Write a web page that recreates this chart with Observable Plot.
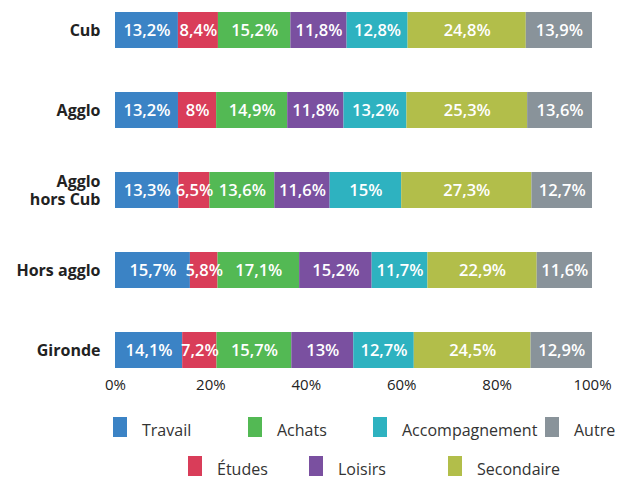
<!DOCTYPE html>
<html><head><meta charset="utf-8">
<script src="https://cdn.jsdelivr.net/npm/d3@7"></script>
<script src="https://cdn.jsdelivr.net/npm/@observablehq/plot@0.6"></script>
<style>
body{margin:0;background:#fff;font-family:"Open Sans",sans-serif;}
#wrap{position:relative;width:617px;height:479px;}
.lg{position:absolute;font-size:16px;color:#333;line-height:18px;white-space:nowrap;}
.sw{position:absolute;width:14px;height:20px;}
</style></head><body><div id="wrap"></div>
<script>
const regions = ["Cub", "Agglo", "Agglo hors Cub", "Hors agglo", "Gironde"];
const categories = ["Travail", "Études", "Achats", "Loisirs", "Accompagnement", "Secondaire", "Autre"];
const colors = ["#3b83c5", "#d93d59", "#53b954", "#7a50a0", "#2eb2c0", "#b2be4a", "#89939a"];
const values = {
  "Cub":            [13.2, 8.4, 15.2, 11.8, 12.8, 24.8, 13.9],
  "Agglo":          [13.2, 8.0, 14.9, 11.8, 13.2, 25.3, 13.6],
  "Agglo hors Cub": [13.3, 6.5, 13.6, 11.6, 15.0, 27.3, 12.7],
  "Hors agglo":     [15.7, 5.8, 17.1, 15.2, 11.7, 22.9, 11.6],
  "Gironde":        [14.1, 7.2, 15.7, 13.0, 12.7, 24.5, 12.9]
};
const data = regions.flatMap(r => categories.map((c, i) => ({region: r, category: c, value: values[r][i]})));
const fmt = v => String(v).replace(".", ",") + "%";
const yLabel = r => r === "Agglo hors Cub" ? "Agglo\nhors Cub" : r;

const chart = Plot.plot({
  width: 617, height: 400,
  marginLeft: 115, marginRight: 25, marginTop: 4, marginBottom: 24,
  style: {fontFamily: "'Open Sans', sans-serif", fontSize: "15px", color: "#222", background: "#fff"},
  x: {domain: [0, 1], ticks: [0, 0.2, 0.4, 0.6, 0.8, 1], tickFormat: d => Math.round(d * 100) + "%", label: null, tickSize: 0, tickPadding: 3},
  y: {domain: regions, label: null, paddingInner: 0.55, paddingOuter: 0.1},
  color: {domain: categories, range: colors},
  marks: [
    Plot.barX(data, Plot.stackX({x: "value", y: "region", fill: "category", z: "category", order: categories, offset: "normalize"})),
    Plot.text(data, Plot.stackX({x: "value", y: "region", z: "category", order: categories, offset: "normalize", text: d => fmt(d.value), fill: "white", fontWeight: 600, fontSize: 16.5})),
    Plot.axisY({tickSize: 0, tickPadding: 15, tickFormat: yLabel, fontWeight: "bold", fontSize: 16, lineHeight: 1.1})
  ]
});
const wrap = document.getElementById("wrap");
chart.style.position = "absolute"; chart.style.left = "0"; chart.style.top = "0";
wrap.appendChild(chart);

const legendPos = [
  [113, 417], [188, 456], [248, 417], [309, 456], [373, 417], [448, 456], [545, 417]
];
categories.forEach((c, i) => {
  const [x, y] = legendPos[i];
  const s = document.createElement("div");
  s.className = "sw"; s.style.left = x + "px"; s.style.top = y + "px"; s.style.background = colors[i];
  wrap.appendChild(s);
  const t = document.createElement("div");
  t.className = "lg"; t.style.left = (x + 29) + "px"; t.style.top = (y + 4) + "px"; t.textContent = c;
  wrap.appendChild(t);
});
</script></body></html>
